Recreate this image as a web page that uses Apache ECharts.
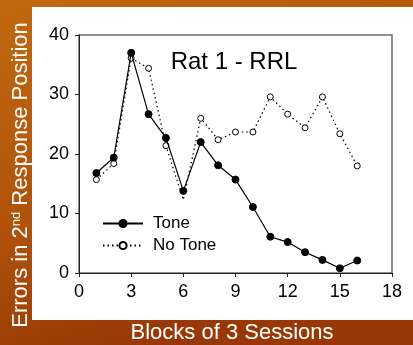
<!DOCTYPE html>
<html>
<head>
<meta charset="utf-8">
<script src="https://cdn.jsdelivr.net/npm/echarts@6/dist/echarts.min.js"></script>
<style>
html,body{margin:0;padding:0;background:#b45a0c;}
#c{width:413px;height:345px;}
</style>
</head>
<body>
<div id="c"></div>
<script>
const blocks = [1,2,3,4,5,6,7,8,9,10,11,12,13,14,15,16];
const toneValues = [16.8,19.4,37.0,26.7,22.7,13.8,22.0,18.1,15.7,11.1,6.1,5.2,3.5,2.2,0.8,2.1];
const noToneValues = [15.7,18.4,36.1,34.4,21.4,12.3,26.0,22.4,23.7,23.7,29.6,26.7,24.4,29.6,23.4,18.0];
const seriesNames = ['Tone','No Tone'];
const xTicks = {min:0,max:18,interval:3};
const yTicks = {min:0,max:40,interval:10};
const chartTitle = 'Rat 1 - RRL';
const xTitle = 'Blocks of 3 Sessions';

const pairs = (vals) => blocks.map((b,i)=>[b, vals[i]]);
const font = '"Liberation Sans", Arial, sans-serif';

const chart = echarts.init(document.getElementById('c'), null, {renderer:'canvas'});
chart.setOption({
  animation:false,
  backgroundColor:{type:'linear',x:0,y:0,x2:0.3,y2:1,colorStops:[
    {offset:0,color:'#c2690f'},{offset:0.6,color:'#b0520b'},{offset:1,color:'#983806'}]},
  textStyle:{fontFamily:font},
  graphic:[
    {type:'rect',z:-10,shape:{x:32,y:7,width:381,height:313},style:{fill:'#ffffff'}},
    {type:'text',x:234,y:62,style:{text:chartTitle,font:'24px '+font,fill:'#000',textAlign:'center',textVerticalAlign:'middle'}},
    {type:'text',x:232,y:333,style:{text:xTitle,font:'22px '+font,fill:'#fff',textAlign:'center',textVerticalAlign:'middle'}},
    {type:'text',x:21,y:175,rotation:Math.PI/2,style:{
      text:'{a|Errors in 2}{s|nd}{a| Response Position}',
      align:'center',verticalAlign:'middle',fill:'#fff',
      rich:{a:{fontSize:22,fontFamily:font,fill:'#fff',verticalAlign:'bottom'},
            s:{fontSize:13,fontFamily:font,fill:'#fff',verticalAlign:'top',padding:[0,0,8,0]}}}}
  ],
  grid:{left:79,right:21,top:35,bottom:72,show:true,borderColor:'#6a6a6a',borderWidth:1.5,backgroundColor:'transparent'},
  legend:{
    left:97,top:210,orient:'vertical',itemWidth:40,itemHeight:9,itemGap:5,
    textStyle:{fontSize:17,color:'#000',fontFamily:font,padding:[0,0,0,5]},
    data:seriesNames
  },
  xAxis:{type:'value',min:xTicks.min,max:xTicks.max,interval:xTicks.interval,
    axisLine:{lineStyle:{color:'#222',width:1}},axisTick:{show:true,length:4,lineStyle:{color:'#222'}},
    axisLabel:{fontSize:18,color:'#000',margin:10,fontFamily:font},splitLine:{show:false}},
  yAxis:{type:'value',min:yTicks.min,max:yTicks.max,interval:yTicks.interval,
    axisLine:{show:true,lineStyle:{color:'#222',width:1}},axisTick:{show:true,length:4,lineStyle:{color:'#222'}},
    axisLabel:{fontSize:18,color:'#000',margin:10,fontFamily:font},splitLine:{show:false}},
  series:[
    {name:seriesNames[1],type:'line',data:pairs(noToneValues),symbol:'circle',
      symbolSize:(v,p)=> (p.dataIndex===5?0:6),
      lineStyle:{color:'#000',width:1.2,type:[1.5,3]},itemStyle:{color:'#fff',borderColor:'#000',borderWidth:1},z:2},
    {name:seriesNames[0],type:'line',data:pairs(toneValues),symbol:'circle',symbolSize:7,
      lineStyle:{color:'#000',width:1.2,type:'solid'},itemStyle:{color:'#000',borderColor:'#000',borderWidth:1},z:3}
  ]
});
</script>
</body>
</html>
